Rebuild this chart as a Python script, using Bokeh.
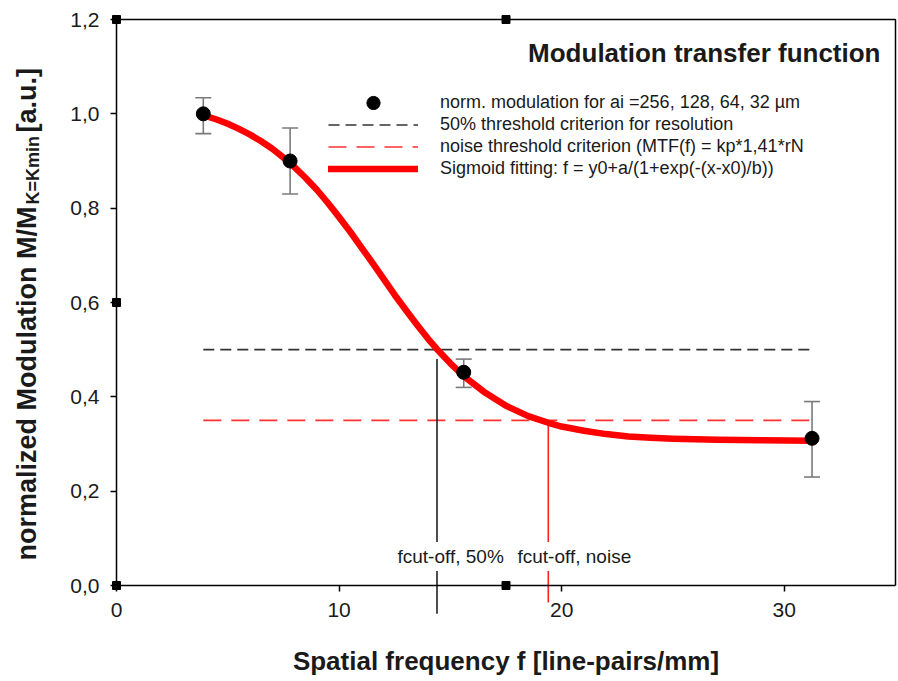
import math
from bokeh.plotting import figure
from bokeh.models import (ColumnDataSource, Whisker, TeeHead, Label, Legend, LegendItem,
                          Range1d, FixedTicker, CustomJSTickFormatter, LinearAxis)
from bokeh.embed import file_html
from bokeh.resources import INLINE

# ---------------- data ----------------
freq = [3.9, 7.8, 15.6, 31.25]
modulation = [1.0, 0.90, 0.452, 0.312]
err_low = [0.958, 0.83, 0.42, 0.23]
err_high = [1.034, 0.97, 0.48, 0.39]

fit_x = [3.9, 4.5, 5, 5.5, 6, 6.5, 7, 7.8, 8.5, 9, 9.5, 10, 10.5, 11, 11.5, 12,
         12.5, 13, 13.5, 14, 14.4, 15, 15.6, 16.5, 17.5, 18.5, 19.4, 20, 21,
         22, 23, 24, 25, 27, 29, 31.25]
fit_y = [0.997, 0.988, 0.979, 0.968, 0.956, 0.942, 0.926, 0.896, 0.864, 0.839,
         0.811, 0.781, 0.750, 0.717, 0.684, 0.650, 0.616, 0.584, 0.553, 0.523,
         0.501, 0.471, 0.444, 0.411, 0.381, 0.359, 0.345, 0.337, 0.328, 0.321,
         0.316, 0.313, 0.311, 0.309, 0.308, 0.307]

threshold_50 = 0.50
threshold_noise = 0.35
cutoff_50 = 14.4
cutoff_noise = 19.4
cutoff_50_top = 0.48
cutoff_noise_top = 0.34
cutoff_50_bottom = -0.06
cutoff_noise_bottom = -0.036

x_ticks = [0, 10, 20, 30]
x_tick_labels = ["0", "10", "20", "30"]
y_ticks = [0.0, 0.2, 0.4, 0.6, 0.8, 1.0, 1.2]
y_tick_labels = ["0,0", "0,2", "0,4", "0,6", "0,8", "1,0", "1,2"]

x_min, x_max = 0, 35
y_min, y_max = 0.0, 1.2

legend_labels = [
    "norm. modulation for ai =256, 128, 64, 32 µm",
    "50% threshold criterion for resolution",
    "noise threshold criterion (MTF(f) = kp*1,41*rN",
    "Sigmoid fitting: f = y0+a/(1+exp(-(x-x0)/b))",
]
title_text = "Modulation transfer function"
x_label = "Spatial frequency f [line-pairs/mm]"
y_label_main = "normalized Modulation M/M"
y_label_sub = "K=Kmin"
y_label_tail = "[a.u.]"
cut_label_50 = "fcut-off, 50%"
cut_label_noise = "fcut-off, noise"

FONT = "Liberation Sans"
TXT = "#1a1a1a"

# ---------------- layout (pixels) ----------------
W, H = 898, 681
FL, FR, FT, FB = 116, 895, 19, 585           # plotting box in the page
sx = (FR - FL) / (x_max - x_min)             # px per x unit
sy = (FB - FT) / (y_max - y_min)             # px per y unit
xr = Range1d(x_min - FL / sx, x_max + (W - FR) / sx)
yr = Range1d(y_min - (H - FB) / sy, y_max + FT / sy)


def dx(px):  # page x pixel -> data x
    return x_min + (px - FL) / sx


def dy(py):  # page y pixel -> data y
    return y_min + (FB - py) / sy


p = figure(width=W, height=H, output_backend="svg", toolbar_location=None,
           x_range=xr, y_range=yr, x_axis_type=None, y_axis_type=None,
           min_border=0)
p.xgrid.visible = False
p.ygrid.visible = False
p.outline_line_color = None
p.background_fill_color = "white"
p.border_fill_color = "white"

FMT_CODE = ("let b=0;for(let i=0;i<tv.length;i++){"
            "if(Math.abs(tv[i]-tick)<Math.abs(tv[b]-tick))b=i;}return tl[b];")

xax = LinearAxis(fixed_location=y_min, bounds=(x_min, x_max),
                 ticker=FixedTicker(ticks=x_ticks),
                 formatter=CustomJSTickFormatter(args=dict(tv=x_ticks, tl=x_tick_labels),
                                                 code=FMT_CODE))
yax = LinearAxis(fixed_location=x_min, bounds=(y_min, y_max),
                 ticker=FixedTicker(ticks=y_ticks),
                 formatter=CustomJSTickFormatter(args=dict(tv=y_ticks, tl=y_tick_labels),
                                                 code=FMT_CODE))
for ax in (xax, yax):
    ax.axis_line_width = 1.5
    ax.axis_line_color = "black"
    ax.major_tick_out = 6
    ax.major_tick_in = 0
    ax.major_tick_line_width = 1.5
    ax.minor_tick_line_color = None
    ax.major_label_text_font = FONT
    ax.major_label_text_font_size = "21px"
    ax.major_label_text_color = TXT
    ax.major_label_standoff = 11

xax.axis_label = x_label
xax.axis_label_text_font = FONT
xax.axis_label_text_font_size = "26px"
xax.axis_label_text_font_style = "bold"
xax.axis_label_text_color = TXT
xax.axis_label_standoff = 26
p.add_layout(xax, "below")
p.add_layout(yax, "left")

# top and right border of the plotting box
p.line([x_min, x_max, x_max], [y_max, y_max, y_min], line_color="black",
       line_width=1.5)

# ---------------- threshold lines ----------------
r_thr50 = p.line([freq[0], freq[-1]], [threshold_50, threshold_50],
                 line_color="#333333", line_width=1.6, line_dash="11 6")
r_thrn = p.line([freq[0], freq[-1]], [threshold_noise, threshold_noise],
                line_color="#ff3030", line_width=1.6, line_dash="18 10")

# vertical cut-off lines (extend below the axis)
p.segment(x0=[cutoff_50], y0=[cutoff_50_top], x1=[cutoff_50], y1=[cutoff_50_bottom],
          line_color="#222222", line_width=1.6)
p.segment(x0=[cutoff_noise], y0=[cutoff_noise_top], x1=[cutoff_noise],
          y1=[cutoff_noise_bottom], line_color="#ff2020", line_width=1.6)

# ---------------- error bars ----------------
src = ColumnDataSource(dict(x=freq, y=modulation, lower=err_low, upper=err_high))
ecol = "#7a7a7a"
p.add_layout(Whisker(source=src, base="x", upper="upper", lower="lower",
                     line_color=ecol, line_width=1.6,
                     upper_head=TeeHead(size=16, line_color=ecol, line_width=1.6),
                     lower_head=TeeHead(size=16, line_color=ecol, line_width=1.6)))

# ---------------- fit curve and points ----------------
r_fit = p.line(fit_x, fit_y, line_color="#ff0000", line_width=6.5,
               line_cap="round", line_join="round")
r_pts = p.scatter("x", "y", source=src, size=14, color="black")

# ---------------- selection handles of the graph box ----------------
hx = [x_min, x_min, x_min, (x_min + x_max) / 2, (x_min + x_max) / 2]
hy = [y_min, y_max, (y_min + y_max) / 2, y_max, y_min]
p.scatter(hx, hy, marker="square", size=8, color="black")

# ---------------- labels ----------------
for txt, lx in [(cut_label_50, dx(393)), (cut_label_noise, dx(513))]:
    p.add_layout(Label(x=lx, y=dy(556), text=txt, text_font=FONT,
                       text_font_size="19px", text_color=TXT,
                       text_baseline="middle", text_align="left",
                       background_fill_color="white", padding=4))

p.add_layout(Label(x=dx(880), y=dy(52), text=title_text, text_font=FONT,
                   text_font_size="26px", text_font_style="bold",
                   text_color=TXT, text_align="right", text_baseline="middle"))

# y-axis title pieces (rotated, reading bottom to top)
p.add_layout(Label(x=dx(26), y=dy(560), text=y_label_main, angle=math.pi / 2,
                   text_font=FONT, text_font_size="27px", text_font_style="bold",
                   text_color=TXT, text_align="left", text_baseline="alphabetic"))
p.add_layout(Label(x=dx(32), y=dy(204), text=y_label_sub, angle=math.pi / 2,
                   text_font=FONT, text_font_size="18px", text_font_style="bold",
                   text_color=TXT, text_align="left", text_baseline="alphabetic"))
p.add_layout(Label(x=dx(26), y=dy(132), text=y_label_tail, angle=math.pi / 2,
                   text_font=FONT, text_font_size="27px", text_font_style="bold",
                   text_color=TXT, text_align="left", text_baseline="alphabetic"))

# ---------------- legends ----------------
common = dict(padding=0, margin=0, border_line_color=None,
              background_fill_alpha=0, label_text_font=FONT,
              label_text_font_size="18px", label_text_color=TXT,
              glyph_width=90, label_standoff=22)
legA = Legend(items=[LegendItem(label=legend_labels[0], renderers=[r_pts])],
              location=(328, H - 118.5), glyph_height=33, label_height=33, spacing=0,
              **common)
legB = Legend(items=[LegendItem(label=legend_labels[1], renderers=[r_thr50]),
                     LegendItem(label=legend_labels[2], renderers=[r_thrn]),
                     LegendItem(label=legend_labels[3], renderers=[r_fit])],
              location=(328, H - 178.5), glyph_height=21, label_height=21, spacing=1,
              **common)
p.add_layout(legA)
p.add_layout(legB)

open("out.html", "w").write(file_html(p, INLINE))
